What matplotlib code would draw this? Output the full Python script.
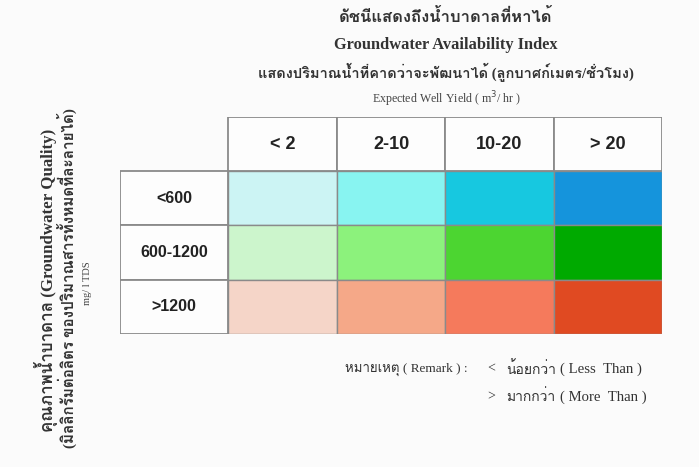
import matplotlib
matplotlib.use("Agg")
import matplotlib.pyplot as plt
from matplotlib import font_manager as fm

# ---------------- data ----------------
col_labels = ["< 2", "2-10", "10-20", "> 20"]
row_labels = ["<600", "600-1200", ">1200"]
row_colors = [
    ["#ccf4f4", "#88f4f1", "#17c8e0", "#1594dc"],
    ["#ccf5cc", "#8cf27c", "#4cd531", "#00aa00"],
    ["#f5d5c8", "#f5a888", "#f57a5c", "#e04a22"],
]
title_th = "ดัชนีแสดงถึงน้ำบาดาลที่หาได้"
title_en = "Groundwater Availability Index"
sub_th = "แสดงปริมาณน้ำที่คาดว่าจะพัฒนาได้ (ลูกบาศก์เมตร/ชั่วโมง)"
sub_en = "Expected Well Yield ( m$^3$/ hr )"
ylab1 = "คุณภาพน้ำบาดาล (Groundwater Quality)"
ylab2 = "(มิลลิกรัมต่อลิตร ของปริมาณสารทั้งหมดที่ละลายได้)"
ylab3 = "mg/ l TDS"
remark_head = "หมายเหตุ ( Remark ) :"
remark_signs = ["<", ">"]
remark_th = ["น้อยกว่า", "มากกว่า"]
remark_en = ["( Less  Than )", "( More  Than )"]

# ---------------- fonts ----------------
def find_thai_font():
    try:
        from fontTools.ttLib import TTFont
    except Exception:
        return None
    seen = set()
    for f in fm.fontManager.ttflist:
        if f.fname in seen:
            continue
        seen.add(f.fname)
        try:
            tt = TTFont(f.fname, fontNumber=0, lazy=True)
            cmap = tt.getBestCmap()
            if cmap and 0x0E01 in cmap and 0x0E49 in cmap:
                return f.name
        except Exception:
            pass
    return None

thai = find_thai_font()
serif = ["Liberation Serif"] + ([thai] if thai else []) + ["DejaVu Sans"]
sans = ["Liberation Sans", "DejaVu Sans"]

W, H = 699, 467
fig = plt.figure(figsize=(W / 100, H / 100), dpi=100, facecolor="#fbfbfb")

# ---------------- table ----------------
x0, x1, y0, y1 = 120, 662, 117, 334
ax = fig.add_axes([x0 / W, 1 - y1 / H, (x1 - x0) / W, (y1 - y0) / H])
ax.set_xlim(0, 5)
ax.set_ylim(4, 0)
ax.axis("off")

edge = "#8a8a8a"
# header cells
for j, lab in enumerate(col_labels):
    ax.bar(j + 1, 1, width=1, bottom=0, align="edge", color="#fdfdfd",
           edgecolor=edge, linewidth=1.3)
    ax.text(j + 1.5, 0.5, lab, ha="center", va="center", fontsize=13,
            fontweight="bold", family=sans, color="#222222")
# row label cells + colored cells
for i, lab in enumerate(row_labels):
    ax.bar(0, 1, width=1, bottom=i + 1, align="edge", color="#fdfdfd",
           edgecolor=edge, linewidth=1.3)
    ax.text(0.5, i + 1.5, lab, ha="center", va="center", fontsize=11.5,
            fontweight="bold", family=sans, color="#222222")
    for j, c in enumerate(row_colors[i]):
        ax.bar(j + 1, 1, width=1, bottom=i + 1, align="edge", color=c,
               edgecolor=edge, linewidth=1.0)

# ---------------- titles ----------------
def ftext(x, y, s, **kw):
    fig.text(x / W, 1 - y / H, s, **kw)

ftext(446, 18, title_th, ha="center", va="center", fontsize=12,
      fontweight="bold", family=serif, color="#333333")
ftext(446, 45, title_en, ha="center", va="center", fontsize=11.8,
      fontweight="bold", family=serif, color="#333333")
ftext(446, 72, sub_th, ha="center", va="center", fontsize=10.5,
      fontweight="bold", family=serif, color="#333333")
ftext(447, 99, sub_en, ha="center", va="center", fontsize=8.6,
      family=serif, color="#444444")

# ---------------- left labels ----------------
ftext(46, 280, ylab1, ha="center", va="center", rotation=90, fontsize=12.2,
      fontweight="bold", family=serif, color="#333333")
ftext(67, 278, ylab2, ha="center", va="center", rotation=90, fontsize=11,
      fontweight="bold", family=serif, color="#333333")
ftext(88, 283, ylab3, ha="center", va="center", rotation=90, fontsize=7.5,
      family=serif, color="#444444")

# ---------------- remark ----------------
ftext(345, 369, remark_head, ha="left", va="center", fontsize=9.5,
      family=serif, color="#333333")
for k, yy in enumerate([369, 397]):
    ftext(487, yy, remark_signs[k], ha="left", va="center", fontsize=10,
          family=serif, color="#333333")
    ftext(506, yy, remark_th[k], ha="left", va="center", fontsize=10,
          family=serif, color="#333333")
    ftext(560, yy, remark_en[k], ha="left", va="center", fontsize=10.6,
          family=serif, color="#333333")

fig.savefig("out.png", dpi=100, facecolor=fig.get_facecolor())
